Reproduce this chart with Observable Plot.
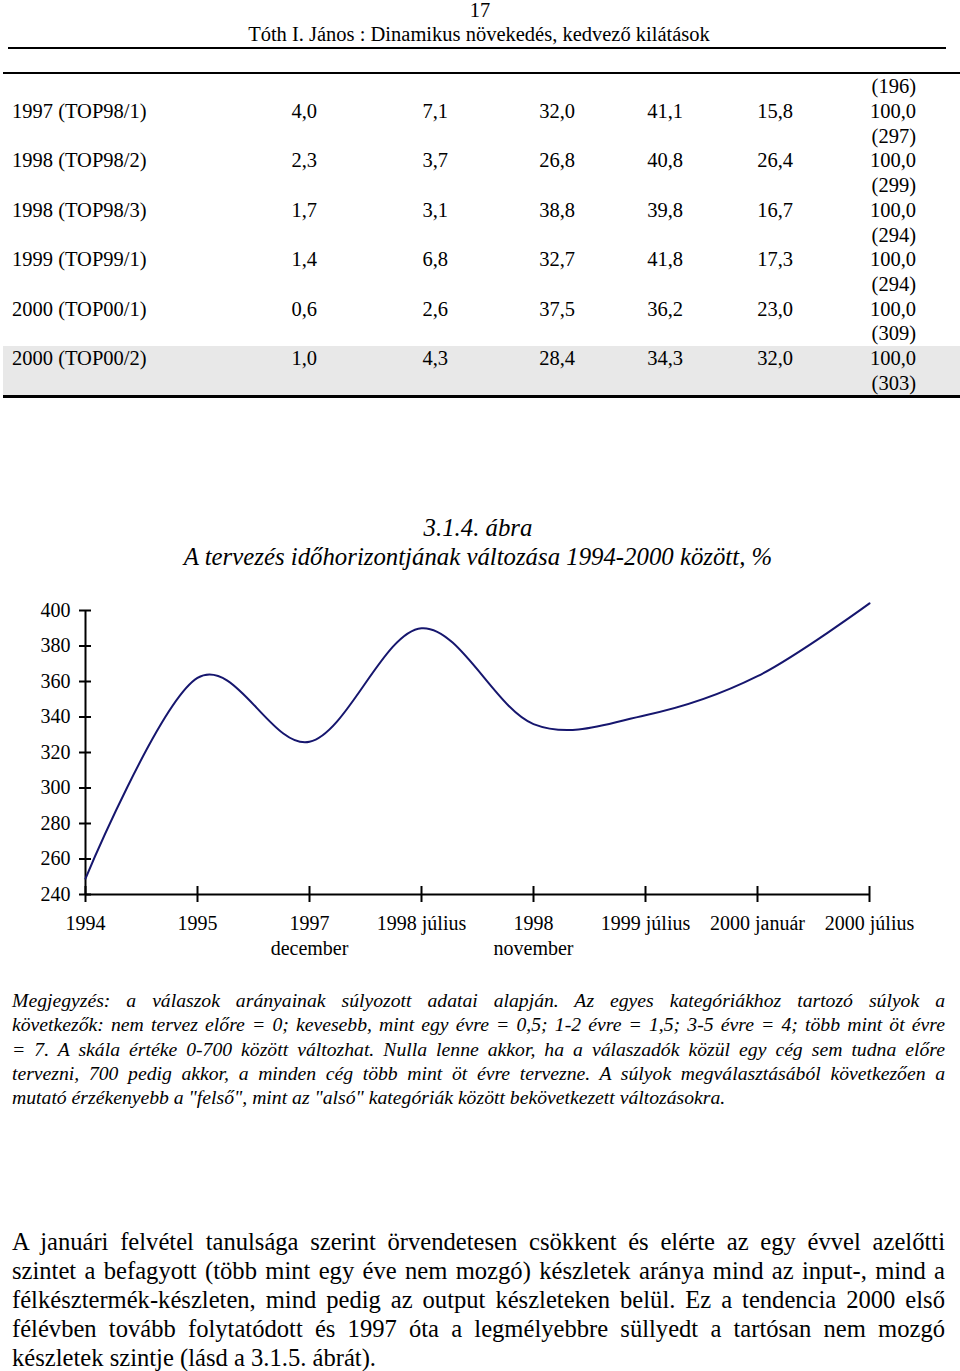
<!DOCTYPE html>
<html><head><meta charset="utf-8">
<script src="https://cdn.jsdelivr.net/npm/d3@7"></script>
<script src="https://cdn.jsdelivr.net/npm/@observablehq/plot@0.6"></script>
<style>
body{margin:0;background:#fff;}
#page{position:relative;width:960px;height:1371px;font-family:"Liberation Serif","Times New Roman",serif;color:#000;overflow:hidden;background:#fff;}
.a{position:absolute;white-space:nowrap;}
.rule{position:absolute;background:#000;}
.j{position:absolute;white-space:nowrap;text-align:justify;text-align-last:justify;}
</style></head><body><div id="page"></div>
<script>
// ---- data ----
const pageNumber = "17";
const runningHead = "Tóth I. János : Dinamikus növekedés, kedvező kilátások";
const carriedCount = "(196)";
const rowLabels = ["1997 (TOP98/1)", "1998 (TOP98/2)", "1998 (TOP98/3)", "1999 (TOP99/1)", "2000 (TOP00/1)", "2000 (TOP00/2)"];
const colA = [4.0, 2.3, 1.7, 1.4, 0.6, 1.0];
const colB = [7.1, 3.7, 3.1, 6.8, 2.6, 4.3];
const colC = [32.0, 26.8, 38.8, 32.7, 37.5, 28.4];
const colD = [41.1, 40.8, 39.8, 41.8, 36.2, 34.3];
const colE = [15.8, 26.4, 16.7, 17.3, 23.0, 32.0];
const colTotal = [100.0, 100.0, 100.0, 100.0, 100.0, 100.0];
const rowCounts = [297, 299, 294, 294, 309, 303];

const figureNumber = "3.1.4. ábra";
const figureTitle = "A tervezés időhorizontjának változása 1994-2000 között, %";
const categories = ["1994", "1995", "1997\ndecember", "1998 július", "1998\nnovember", "1999 július", "2000 január", "2000 július"];
const values = [249, 362, 326, 390, 336, 341, 363, 404];
const yTicks = [240, 260, 280, 300, 320, 340, 360, 380, 400];

const noteLines = [
  "Megjegyzés: a válaszok arányainak súlyozott adatai alapján. Az egyes kategóriákhoz tartozó súlyok a",
  "következők: nem tervez előre = 0; kevesebb, mint egy évre = 0,5; 1-2 évre = 1,5; 3-5 évre = 4; több mint öt évre",
  "= 7. A skála értéke 0-700 között változhat. Nulla lenne akkor, ha a válaszadók közül egy cég sem tudna előre",
  "tervezni, 700 pedig akkor, a minden cég több mint öt évre tervezne. A súlyok megválasztásából következően a",
  "mutató érzékenyebb a \"felső\", mint az \"alsó\" kategóriák között bekövetkezett változásokra."
];
const bodyLines = [
  "A januári felvétel tanulsága szerint örvendetesen csökkent és elérte az egy évvel azelőtti",
  "szintet a befagyott (több mint egy éve nem mozgó) készletek aránya mind az input-, mind a",
  "félkésztermék-készleten, mind pedig az output készleteken belül. Ez a tendencia 2000 első",
  "félévben tovább folytatódott és 1997 óta a legmélyebbre süllyedt a tartósan nem mozgó",
  "készletek szintje (lásd a 3.1.5. ábrát)."
];

// ---- page ----
const page = document.getElementById("page");
function el(cls, css, text) {
  const d = document.createElement("div");
  d.className = cls;
  d.style.cssText = css;
  if (text != null) d.textContent = text;
  page.appendChild(d);
  return d;
}
const fmt = v => d3.format(".1f")(v).replace(".", ",");
const FS = 20.5, LH = 24;

el("a", `left:0;width:960px;text-align:center;top:${10 - LH/2}px;font-size:${FS}px;line-height:${LH}px;`, pageNumber);
el("a", `left:0;width:958px;text-align:center;top:${34 - LH/2}px;font-size:${FS}px;line-height:${LH}px;`, runningHead);
el("rule", "left:8px;width:938px;top:47px;height:2px;");
el("rule", "left:3px;width:957px;top:72px;height:2px;");
// shaded last row
el("rule", "left:3px;width:957px;top:346px;height:49px;background:#e8e8e8;");
el("rule", "left:3px;width:957px;top:395px;height:2.5px;");

const rowY = i => 111 + i * 49.4;
const colRight = [317, 448, 575, 683, 793, 916];
el("a", `right:${960 - 916}px;top:${86 - LH/2}px;font-size:${FS}px;line-height:${LH}px;`, carriedCount);
rowLabels.forEach((lab, i) => {
  const y = rowY(i);
  el("a", `left:12px;top:${y - LH/2}px;font-size:${FS}px;line-height:${LH}px;`, lab);
  [colA, colB, colC, colD, colE, colTotal].forEach((col, j) => {
    el("a", `right:${960 - colRight[j]}px;top:${y - LH/2}px;font-size:${FS}px;line-height:${LH}px;`, fmt(col[i]));
  });
  el("a", `right:${960 - 916}px;top:${y + 24.7 - LH/2}px;font-size:${FS}px;line-height:${LH}px;`, `(${rowCounts[i]})`);
});

// figure titles
el("a", `left:0;width:956px;text-align:center;top:${528 - 15}px;font-size:24.8px;line-height:30px;font-style:italic;`, figureNumber);
el("a", `left:0;width:956px;text-align:center;top:${557 - 15}px;font-size:24.8px;line-height:30px;font-style:italic;`, figureTitle);

// chart
const data = categories.map((c, i) => ({cat: c, value: values[i]}));
const chart = Plot.plot({
  width: 960,
  height: 380,
  marginLeft: 85,
  marginRight: 91,
  marginTop: 20,
  marginBottom: 76,
  x: {type: "point", domain: categories, padding: 0},
  y: {domain: [240, 400]},
  style: {fontFamily: '"Liberation Serif","Times New Roman",serif', fontSize: "20px", color: "#000", background: "transparent", overflow: "visible"},
  marks: [
    Plot.ruleX([categories[0]], {y1: 240, y2: 400, strokeWidth: 2, stroke: "#000"}),
    Plot.ruleY([240], {strokeWidth: 2, stroke: "#000"}),
    Plot.axisY({ticks: yTicks, tickSize: 12, dx: 6, tickPadding: 9, strokeWidth: 2, fontSize: 20, label: null, tickFormat: d => String(d)}),
    Plot.axisX({tickSize: 16, dy: -8, tickPadding: 10, strokeWidth: 2, fontSize: 20, lineHeight: 1.25, label: null}),
    Plot.line(data, {x: "cat", y: "value", curve: "cardinal", tension: 0, stroke: "#16166e", strokeWidth: 2})
  ]
});
const holder = el("a", "left:0;top:590px;width:960px;height:380px;");
holder.appendChild(chart);

// note
noteLines.forEach((t, i) => {
  const last = i === noteLines.length - 1;
  el(last ? "a" : "j", `left:12px;width:933px;top:${1000 + i * 24.4 - 12.2}px;font-size:19.7px;line-height:24.4px;font-style:italic;`, t);
});
// body
bodyLines.forEach((t, i) => {
  const last = i === bodyLines.length - 1;
  el(last ? "a" : "j", `left:12px;width:933px;top:${1241 + i * 29 - 14.5}px;font-size:24.6px;line-height:29px;`, t);
});
</script></body></html>
